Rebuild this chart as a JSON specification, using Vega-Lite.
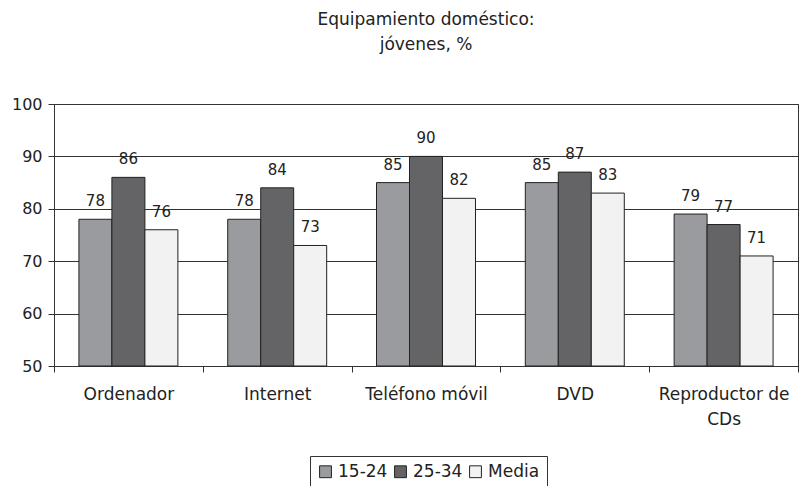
{
  "$schema": "https://vega.github.io/schema/vega-lite/v6.json",
  "width": 744,
  "height": 262,
  "autosize": {"type": "none"},
  "padding": {"left": 54, "top": 104, "right": 9, "bottom": 120},
  "background": "white",
  "config": {
    "font": "DejaVu Sans",
    "view": {"stroke": "#333", "strokeWidth": 1}
  },
  "title": {
    "text": ["Equipamiento doméstico:", "jóvenes, %"],
    "fontSize": 17,
    "fontWeight": "normal",
    "color": "#222",
    "lineHeight": 25,
    "anchor": "middle",
    "offset": 42
  },
  "data": {
    "values": [
      {"cat": "Ordenador", "serie": "15-24", "v": 78},
      {"cat": "Ordenador", "serie": "25-34", "v": 86},
      {"cat": "Ordenador", "serie": "Media", "v": 76},
      {"cat": "Internet", "serie": "15-24", "v": 78},
      {"cat": "Internet", "serie": "25-34", "v": 84},
      {"cat": "Internet", "serie": "Media", "v": 73},
      {"cat": "Teléfono móvil", "serie": "15-24", "v": 85},
      {"cat": "Teléfono móvil", "serie": "25-34", "v": 90},
      {"cat": "Teléfono móvil", "serie": "Media", "v": 82},
      {"cat": "DVD", "serie": "15-24", "v": 85},
      {"cat": "DVD", "serie": "25-34", "v": 87},
      {"cat": "DVD", "serie": "Media", "v": 83},
      {"cat": "Reproductor de CDs", "serie": "15-24", "v": 79},
      {"cat": "Reproductor de CDs", "serie": "25-34", "v": 77},
      {"cat": "Reproductor de CDs", "serie": "Media", "v": 71}
    ]
  },
  "encoding": {
    "x": {
      "field": "cat",
      "type": "nominal",
      "sort": null,
      "scale": {"paddingInner": 0, "paddingOuter": 0},
      "axis": {
        "title": null,
        "labelAngle": 0,
        "labelFontSize": 17,
        "labelColor": "#222",
        "labelPadding": 14,
        "labelLineHeight": 25,
        "labelBaseline": "top",
        "labelExpr": "datum.label == 'Reproductor de CDs' ? ['Reproductor de', 'CDs'] : datum.label",
        "tickBand": "extent",
        "tickSize": 6,
        "tickColor": "#333",
        "domainColor": "#333",
        "labelLimit": 200
      }
    },
    "xOffset": {
      "field": "serie",
      "type": "nominal",
      "scale": {"paddingInner": 0, "paddingOuter": 0.755}
    }
  },
  "layer": [
    {
      "mark": {"type": "bar", "stroke": "#222", "strokeWidth": 1},
      "encoding": {
        "y": {
          "field": "v",
          "type": "quantitative",
          "scale": {"domain": [50, 100], "zero": false, "nice": false},
          "axis": {
            "title": null,
            "values": [50, 60, 70, 80, 90, 100],
            "labelFontSize": 16,
            "labelColor": "#222",
            "labelPadding": 6,
            "tickSize": 6,
            "tickColor": "#333",
            "domainColor": "#333",
            "gridColor": "#333",
            "gridOpacity": 1
          }
        },
        "y2": {"datum": 50},
        "color": {
          "field": "serie",
          "type": "nominal",
          "scale": {"domain": ["15-24", "25-34", "Media"], "range": ["#9a9b9f", "#646466", "#f2f2f2"]},
          "legend": {
            "title": null,
            "orient": "none",
            "legendX": 256,
            "legendY": 352,
            "direction": "horizontal",
            "symbolType": "square",
            "symbolSize": 140,
            "symbolStrokeColor": "#222",
            "symbolStrokeWidth": 1,
            "labelFontSize": 17,
            "labelColor": "#222",
            "labelOffset": 4,
            "columnPadding": 4,
            "strokeColor": "#333",
            "padding": 7
          }
        }
      }
    },
    {
      "mark": {"type": "text", "baseline": "bottom", "dy": -10, "fontSize": 15, "color": "#222"},
      "encoding": {
        "y": {"field": "v", "type": "quantitative"},
        "text": {"field": "v", "type": "quantitative"}
      }
    }
  ]
}
